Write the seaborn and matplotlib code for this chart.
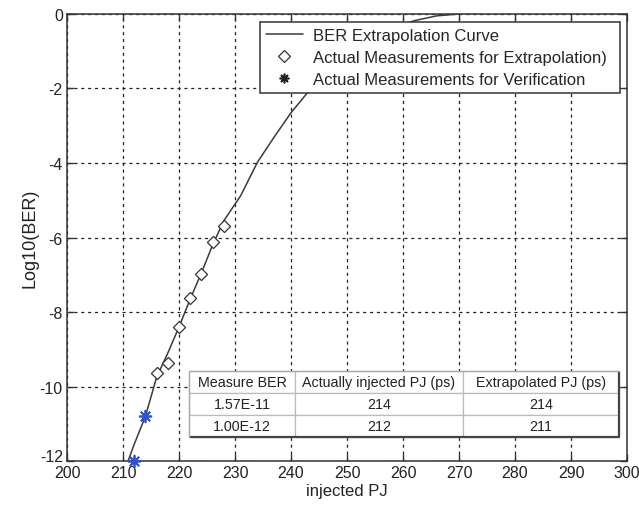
import matplotlib
matplotlib.use("Agg")
import matplotlib.pyplot as plt
import matplotlib.transforms as mtransforms
import seaborn as sns
import pandas as pd
from matplotlib.lines import Line2D

# ---- data ----
curve_x = [210.9, 212, 214, 216, 218, 220, 222, 224, 226, 228, 231, 234, 237, 240, 243, 246, 250, 254, 258, 262, 266, 270]
curve_y = [-12.0, -11.55, -10.8, -9.75, -9.1, -8.4, -7.65, -6.95, -6.2, -5.55, -4.88, -3.98, -3.3, -2.65, -2.1, -1.65, -1.1, -0.7, -0.4, -0.18, -0.05, 0.0]

extrap_x = [216, 218, 220, 222, 224, 226, 228]
extrap_y = [-9.65, -9.37, -8.41, -7.63, -6.97, -6.13, -5.70]

verif_x = [214, 212]
verif_y = [-10.80, -12.0]

table_header = ["Measure BER", "Actually injected PJ (ps)", "Extrapolated PJ (ps)"]
table_rows = [["1.57E-11", "214", "214"],
              ["1.00E-12", "212", "211"]]

x_ticks = [200, 210, 220, 230, 240, 250, 260, 270, 280, 290, 300]
y_ticks = [0, -2, -4, -6, -8, -10, -12]

sns.set_theme(style="white")
plt.rcParams['font.family'] = ['Liberation Sans', 'DejaVu Sans']
plt.rcParams['axes.unicode_minus'] = False

fig = plt.figure(figsize=(6.39, 5.10), dpi=100)
ax = fig.add_axes([0.1049, 0.0941, 0.8764, 0.8765])

curve_df = pd.DataFrame({"x": curve_x, "y": curve_y})
ext_df = pd.DataFrame({"x": extrap_x, "y": extrap_y})
ver_df = pd.DataFrame({"x": verif_x, "y": verif_y})

sns.lineplot(data=curve_df, x="x", y="y", ax=ax, color="#3a3a3a", lw=1.1, sort=False, zorder=3)
sns.scatterplot(data=ext_df, x="x", y="y", ax=ax, marker="D", s=38, facecolor="white",
                edgecolor="#333333", linewidth=0.9, zorder=4)
sns.scatterplot(data=ver_df, x="x", y="y", ax=ax, marker=(8, 2, 0), s=70, color="#3050d0",
                linewidth=1.3, zorder=5, clip_on=False)

ax.set_xlim(200, 300)
ax.set_ylim(-12, 0)
ax.set_xticks(x_ticks)
ax.set_yticks(y_ticks)
ax.tick_params(direction="in", length=5, width=1, color="#333333", labelsize=11.5,
               top=True, right=True, bottom=True, left=True, pad=3, labelcolor="#222222")
ax.grid(True, color="#222222", linestyle=(0, (2.5, 3)), linewidth=0.9)
for s in ax.spines.values():
    s.set_color("#333333")
    s.set_linewidth(1.1)
ax.set_xlabel("injected PJ", fontsize=12, color="#222222", labelpad=2)
ax.set_ylabel("Log10(BER)", fontsize=13, color="#222222", labelpad=1)

# raise the bottom y tick label slightly (as in the reference)
fig.canvas.draw()
ylabs = ax.get_yticklabels()
for lab in ylabs:
    if lab.get_text() == "-12":
        lab.set_transform(lab.get_transform() +
                          mtransforms.ScaledTranslation(0, 4 / 72, fig.dpi_scale_trans))

handles = [
    Line2D([], [], color="#3a3a3a", lw=1.1),
    Line2D([], [], marker="D", ls="none", markersize=6, markerfacecolor="white",
           markeredgecolor="#333333", markeredgewidth=0.9),
    Line2D([], [], marker=(8, 2, 0), ls="none", markersize=7, color="#222222", markeredgewidth=1.2),
]
labels = ["BER Extrapolation Curve", "Actual Measurements for Extrapolation)",
          "Actual Measurements for Verification"]
leg = ax.legend(handles, labels, loc="upper left", bbox_to_anchor=(0.345, 0.826, 0.643, 0.156),
                mode="expand", fontsize=12, frameon=True, fancybox=False, framealpha=1,
                borderaxespad=0, handlelength=2.2, handletextpad=0.6, labelspacing=0.42,
                borderpad=0.35)
leg.get_frame().set_edgecolor("#333333")
leg.get_frame().set_linewidth(1.1)
leg.set_zorder(10)

tb_left, tb_bottom, tb_w, tb_h = 0.218, 0.053, 0.768, 0.149
tb = ax.table(cellText=table_rows, colLabels=table_header, cellLoc="center",
              colWidths=[0.246, 0.39, 0.364], bbox=[tb_left, tb_bottom, tb_w, tb_h])
tb.auto_set_font_size(False)
tb.set_fontsize(10.3)
tb.set_zorder(10)
for (r, c), cell in tb.get_celld().items():
    cell.set_edgecolor("#bbbbbb")
    cell.set_linewidth(0.9)
    cell.set_facecolor("white")
    cell.get_text().set_color("#222222")
# 3D-looking frame: dark bottom/right, light top/left
ax.plot([tb_left, tb_left + tb_w, tb_left + tb_w], [tb_bottom, tb_bottom, tb_bottom + tb_h],
        transform=ax.transAxes, color="#444444", lw=1.6, zorder=11, solid_capstyle="butt")
ax.plot([tb_left, tb_left, tb_left + tb_w], [tb_bottom, tb_bottom + tb_h, tb_bottom + tb_h],
        transform=ax.transAxes, color="#aaaaaa", lw=1.0, zorder=11)

fig.savefig("out.png", dpi=100)
